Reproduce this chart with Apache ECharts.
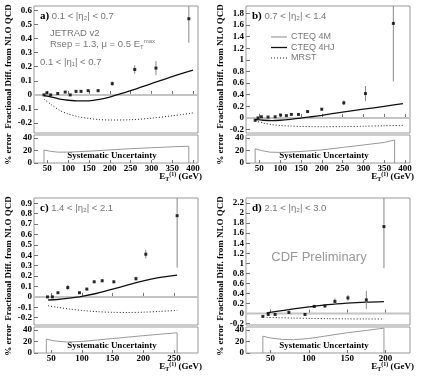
<!DOCTYPE html>
<html><head><meta charset="utf-8">
<script src="https://cdn.jsdelivr.net/npm/echarts@6/dist/echarts.min.js"></script>
<style>html,body{margin:0;padding:0;background:#fff}#c{width:425px;height:382px}</style>
</head><body><div id="c"></div>
<script>
// ---------- DATA ----------
// panel a) 0.1<|eta2|<0.7
const ptsXA = [42, 49, 58, 75, 93, 105, 119, 131, 148, 172, 206, 260, 311, 390];
const ptsYA = [0.0, 0.015, 0.0, 0.01, 0.02, 0.0, 0.025, 0.025, 0.03, 0.03, 0.08, 0.18, 0.19, 0.54];
const errA  = [0.005, 0.005, 0.005, 0.006, 0.006, 0.007, 0.008, 0.008, 0.009, 0.01, 0.015, 0.03, 0.05, 0.17];
const curveXA = [42, 60, 80, 100, 125, 150, 175, 200, 250, 300, 350, 400];
const hjA     = [-0.005, -0.015, -0.03, -0.038, -0.043, -0.042, -0.032, -0.015, 0.03, 0.08, 0.13, 0.175];
const mrstA   = [-0.03, -0.07, -0.11, -0.135, -0.155, -0.167, -0.175, -0.178, -0.176, -0.165, -0.148, -0.128];
const sysXA = [42, 55, 75, 100, 150, 200, 250, 300, 350, 390];
const sysA  = [21, 19, 17.5, 17.5, 19, 21, 23, 24.5, 26, 27];

// panel b) 0.7<|eta2|<1.4
const ptsXB = [40, 47, 55, 71, 88, 101, 115, 127, 144, 166, 200, 253, 305, 372];
const ptsYB = [-0.04, 0.0, 0.02, 0.015, 0.02, 0.05, 0.04, 0.06, 0.06, 0.11, 0.15, 0.26, 0.42, 1.63];
const errB  = [0.005, 0.005, 0.006, 0.006, 0.007, 0.008, 0.009, 0.01, 0.012, 0.015, 0.02, 0.04, 0.13, 1.0];
const curveXB = [40, 60, 80, 100, 125, 150, 175, 200, 250, 300, 350, 395];
const hjB     = [-0.03, -0.04, -0.045, -0.04, -0.025, -0.005, 0.02, 0.045, 0.1, 0.15, 0.2, 0.245];
const mrstB   = [-0.05, -0.09, -0.115, -0.13, -0.14, -0.148, -0.151, -0.152, -0.15, -0.143, -0.135, -0.128];
const sysXB = [40, 55, 75, 100, 150, 200, 250, 300, 350, 375];
const sysB  = [23, 20, 17.5, 17, 18.5, 21, 25, 29, 33, 37];

// panel c) 1.4<|eta2|<2.1
const ptsXC = [44, 52, 61, 77, 96, 108, 120, 133, 152, 188, 204, 255];
const ptsYC = [0.0, 0.0, 0.04, 0.09, 0.04, 0.075, 0.145, 0.155, 0.145, 0.175, 0.41, 0.78];
const errC  = [0.005, 0.006, 0.008, 0.025, 0.01, 0.012, 0.012, 0.015, 0.012, 0.02, 0.04, 0.5];
const curveXC = [45, 60, 80, 100, 125, 150, 175, 200, 225, 255];
const hjC     = [-0.03, -0.025, -0.012, 0.005, 0.035, 0.075, 0.115, 0.155, 0.185, 0.21];
const mrstC   = [-0.085, -0.1, -0.117, -0.13, -0.142, -0.148, -0.15, -0.147, -0.14, -0.13];
const sysXC = [42, 55, 75, 100, 150, 200, 255];
const sysC  = [24, 21, 19, 20, 25, 30, 35];

// panel d) 2.1<|eta2|<3.0
const ptsXD = [40, 47, 56, 74, 95, 107, 121, 134, 151, 175, 198];
const ptsYD = [-0.06, -0.02, -0.02, 0.02, -0.02, 0.14, 0.15, 0.24, 0.31, 0.27, 1.73];
const errD  = [0.01, 0.01, 0.01, 0.02, 0.02, 0.03, 0.04, 0.06, 0.06, 0.18, 0.83];
const curveXD = [45, 60, 80, 100, 125, 150, 175, 198];
const hjD     = [0.01, 0.045, 0.09, 0.13, 0.175, 0.205, 0.225, 0.235];
const mrstD   = [-0.08, -0.085, -0.092, -0.098, -0.104, -0.108, -0.11, -0.11];
const sysXD = [40, 50, 65, 80, 100, 125, 150, 175, 198];
const sysD  = [29, 26, 23.5, 23, 25, 30, 35, 39, 43];

// axis ranges and tick labels
const xRangeAB = [18, 412], xRangeC = [22, 289], xRangeD = [18, 232];
const yRangeA = [-0.27, 0.63], yRangeB = [-0.26, 1.93], yRangeC = [-0.27, 0.95], yRangeD = [-0.23, 2.3];
const subRange = [0, 45];
const xTicksAB = [50, 100, 150, 200, 250, 300, 350, 400];
const xTicksC = [50, 100, 150, 200, 250];
const xTicksD = [50, 100, 150, 200];
const yTicksA = [-0.2, -0.1, 0, 0.1, 0.2, 0.3, 0.4, 0.5, 0.6];
const yTicksB = [-0.2, 0, 0.2, 0.4, 0.6, 0.8, 1, 1.2, 1.4, 1.6, 1.8];
const yTicksC = [-0.2, -0.1, 0, 0.1, 0.2, 0.3, 0.4, 0.5, 0.6, 0.7, 0.8, 0.9];
const yTicksD = [-0.2, 0, 0.2, 0.4, 0.6, 0.8, 1, 1.2, 1.4, 1.6, 1.8, 2, 2.2];
const subTicks = [0, 20, 40];
const panelTags = ['a)', 'b)', 'c)', 'd)'];
const etaRanges = ['0.1 < |η₂| < 0.7', '0.7 < |η₂| < 1.4', '1.4 < |η₂| < 2.1', '2.1 < |η₂| < 3.0'];
const seriesNames = ['CTEQ 4M', 'CTEQ 4HJ', 'MRST'];

// ---------- LAYOUT ----------
const SERIF = '"Liberation Serif","Times New Roman",serif';
const SANS = '"Liberation Sans",Arial,sans-serif';
const layout = [
  {left: 34, top: 6, w: 164, mainH: 127, subTop: 135, subH: 28},
  {left: 246, top: 6, w: 164, mainH: 127, subTop: 135, subH: 28},
  {left: 34, top: 198, w: 164, mainH: 127, subTop: 327, subH: 26},
  {left: 246, top: 198, w: 164, mainH: 127, subTop: 327, subH: 26}
];
const panels = [
  {px: ptsXA, py: ptsYA, pe: errA, cx: curveXA, hj: hjA, mr: mrstA, sx: sysXA, sv: sysA, xr: xRangeAB, yr: yRangeA, xt: xTicksAB, yt: yTicksA},
  {px: ptsXB, py: ptsYB, pe: errB, cx: curveXB, hj: hjB, mr: mrstB, sx: sysXB, sv: sysB, xr: xRangeAB, yr: yRangeB, xt: xTicksAB, yt: yTicksB},
  {px: ptsXC, py: ptsYC, pe: errC, cx: curveXC, hj: hjC, mr: mrstC, sx: sysXC, sv: sysC, xr: xRangeC, yr: yRangeC, xt: xTicksC, yt: yTicksC},
  {px: ptsXD, py: ptsYD, pe: errD, cx: curveXD, hj: hjD, mr: mrstD, sx: sysXD, sv: sysD, xr: xRangeD, yr: yRangeD, xt: xTicksD, yt: yTicksD}
];

const grids = [], xAxes = [], yAxes = [], series = [], graphics = [];
const frameColor = '#999';
const labelFont = {fontFamily: SERIF, fontWeight: 'bold', fontSize: 9, color: '#000'};
function fmt(v) { return String(Math.round(v * 100) / 100); }

panels.forEach(function (p, i) {
  const L = layout[i];
  const gm = i * 2, gs = i * 2 + 1;
  grids.push({left: L.left, top: L.top, width: L.w, height: L.mainH, show: true, borderColor: frameColor, borderWidth: 1, outerBoundsMode: 'none'});
  grids.push({left: L.left, top: L.subTop, width: L.w, height: L.subH, show: true, borderColor: frameColor, borderWidth: 1, outerBoundsMode: 'none'});
  xAxes.push({type: 'value', gridIndex: gm, min: p.xr[0], max: p.xr[1], axisLine: {show: false}, splitLine: {show: false},
    axisTick: {inside: true, length: 4, lineStyle: {color: '#777'}, customValues: p.xt}, axisLabel: {show: false}});
  xAxes.push({type: 'value', gridIndex: gs, min: p.xr[0], max: p.xr[1], axisLine: {show: false}, splitLine: {show: false},
    axisTick: {inside: true, length: 3, lineStyle: {color: '#777'}, customValues: p.xt},
    axisLabel: Object.assign({margin: 1, customValues: p.xt, formatter: fmt}, labelFont)});
  yAxes.push({type: 'value', gridIndex: gm, min: p.yr[0], max: p.yr[1], axisLine: {show: false}, splitLine: {show: false},
    axisTick: {inside: true, length: 4, lineStyle: {color: '#777'}, customValues: p.yt},
    axisLabel: Object.assign({margin: 2, customValues: p.yt, formatter: fmt}, labelFont)});
  yAxes.push({type: 'value', gridIndex: gs, min: subRange[0], max: subRange[1], axisLine: {show: false}, splitLine: {show: false},
    axisTick: {inside: true, length: 4, lineStyle: {color: '#777'}, customValues: subTicks},
    axisLabel: Object.assign({margin: 2, customValues: subTicks, formatter: fmt}, labelFont)});

  series.push({name: seriesNames[0], type: 'line', xAxisIndex: gm, yAxisIndex: gm, symbol: 'none', silent: true, z: 1,
    data: [[p.xr[0], 0], [p.xr[1], 0]], lineStyle: {color: '#c4c4c4', width: 2}});
  series.push({name: seriesNames[1], type: 'line', xAxisIndex: gm, yAxisIndex: gm, symbol: 'none', smooth: 0.3, z: 2,
    data: p.cx.map(function (x, k) { return [x, p.hj[k]]; }), lineStyle: {color: '#111', width: 1.3}});
  series.push({name: seriesNames[2], type: 'line', xAxisIndex: gm, yAxisIndex: gm, symbol: 'none', smooth: 0.3, z: 2,
    data: p.cx.map(function (x, k) { return [x, p.mr[k]]; }), lineStyle: {color: '#222', width: 1, type: [1, 2]}});
  series.push({type: 'custom', xAxisIndex: gm, yAxisIndex: gm, clip: true, z: 3, silent: true,
    data: p.px.map(function (x, k) { return [x, p.py[k], p.pe[k]]; }),
    renderItem: function (params, api) {
      const x = api.value(0), y = api.value(1), e = api.value(2);
      const a = api.coord([x, y - e]), b = api.coord([x, y + e]);
      return {type: 'line', shape: {x1: a[0], y1: a[1], x2: b[0], y2: b[1]}, style: {stroke: '#888', lineWidth: 1}};
    }});
  series.push({type: 'scatter', xAxisIndex: gm, yAxisIndex: gm, symbol: 'rect', symbolSize: 3, z: 4,
    data: p.px.map(function (x, k) { return [x, p.py[k]]; }), itemStyle: {color: '#000'}});
  const sysData = [[p.sx[0], 0]].concat(p.sx.map(function (x, k) { return [x, p.sv[k]]; }), [[p.sx[p.sx.length - 1], 0]]);
  series.push({type: 'line', xAxisIndex: gs, yAxisIndex: gs, symbol: 'none', silent: true,
    data: sysData, lineStyle: {color: '#999', width: 1}});

  // texts
  graphics.push({type: 'text', left: L.left + 6, top: L.top + 5, style: {
    text: '{b|' + panelTags[i] + '}{g| ' + etaRanges[i] + '}',
    rich: {b: {fontFamily: SERIF, fontWeight: 'bold', fontSize: 11, fill: '#000'}, g: {fontFamily: SANS, fontSize: 9.5, fill: '#777'}}}});
  graphics.push({type: 'text', x: L.left + 78, y: L.subTop + L.subH - 7, style: {
    text: 'Systematic Uncertainty', fontFamily: SERIF, fontWeight: 'bold', fontSize: 9, fill: '#000', align: 'center', verticalAlign: 'middle'}});
  graphics.push({type: 'text', x: L.left + L.w + 4, y: L.subTop + L.subH + 14, style: {
    text: '{e|E}{s|T}{p|(1)}{e| (GeV)}', align: 'right', verticalAlign: 'middle',
    rich: {e: {fontFamily: SERIF, fontWeight: 'bold', fontSize: 9, fill: '#000', lineHeight: 11, verticalAlign: 'middle'},
           s: {fontFamily: SERIF, fontWeight: 'bold', fontSize: 6, fill: '#000', lineHeight: 11, verticalAlign: 'bottom'},
           p: {fontFamily: SERIF, fontWeight: 'bold', fontSize: 6, fill: '#000', lineHeight: 11, verticalAlign: 'top'}}}});
  graphics.push({type: 'text', x: L.left - 25, y: L.top + L.mainH / 2 - 3, rotation: Math.PI / 2, style: {
    text: 'Fractional Diff. from NLO QCD', fontFamily: SERIF, fontWeight: 'bold', fontSize: 9, fill: '#000', align: 'center', verticalAlign: 'middle'}});
  graphics.push({type: 'text', x: L.left - 25, y: L.subTop + L.subH / 2, rotation: Math.PI / 2, style: {
    text: '% error', fontFamily: SERIF, fontWeight: 'bold', fontSize: 9, fill: '#000', align: 'center', verticalAlign: 'middle'}});
});

// panel a annotations
const gTxt = {fontFamily: SANS, fontSize: 9.5, fill: '#777'};
graphics.push({type: 'text', left: 50, top: 28, style: Object.assign({text: 'JETRAD v2'}, gTxt)});
graphics.push({type: 'text', left: 50, top: 38, style: {
  text: '{g|Rsep = 1.3, μ = 0.5 E}{s|T}{p|max}',
  rich: {g: Object.assign({lineHeight: 12, verticalAlign: 'middle'}, gTxt),
         s: {fontFamily: SANS, fontSize: 6, fill: '#777', lineHeight: 12, verticalAlign: 'bottom'},
         p: {fontFamily: SANS, fontSize: 6, fill: '#777', lineHeight: 12, verticalAlign: 'top'}}}});
graphics.push({type: 'text', left: 40, top: 57, style: Object.assign({text: '0.1 < |η₁| < 0.7'}, gTxt)});
// legend (panel b)
const legStyles = [{stroke: '#c4c4c4', lineWidth: 2}, {stroke: '#111', lineWidth: 1.3}, {stroke: '#222', lineWidth: 1, lineDash: [1, 2]}];
seriesNames.forEach(function (n, k) {
  const yy = 37 + k * 10.5;
  graphics.push({type: 'line', shape: {x1: 271, y1: yy, x2: 287, y2: yy}, style: legStyles[k], silent: true});
  graphics.push({type: 'text', x: 291, y: yy, style: {text: n, fontFamily: SANS, fontSize: 9, fill: '#777', verticalAlign: 'middle'}});
});
// panel d watermark
graphics.push({type: 'text', x: 319, y: 257, style: {text: 'CDF Preliminary', fontFamily: SANS, fontSize: 13, fill: '#999', align: 'center', verticalAlign: 'middle'}});

const option = {
  animation: false,
  backgroundColor: '#fff',
  grid: grids, xAxis: xAxes, yAxis: yAxes, series: series, graphic: graphics
};
const chart = echarts.init(document.getElementById('c'));
chart.setOption(option);
</script></body></html>
